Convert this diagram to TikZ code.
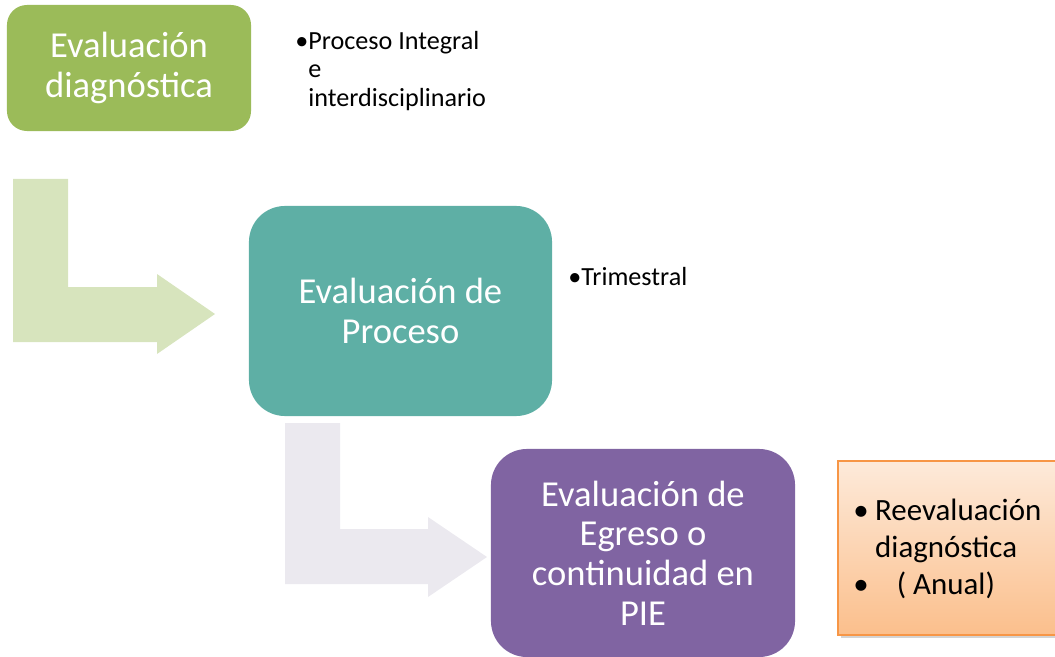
\documentclass[tikz,border=0pt]{standalone}
\usepackage{fontspec}
\setmainfont{Carlito}
\usetikzlibrary{shadows}

\definecolor{diaggreen}{HTML}{9BBB59}
\definecolor{procteal}{HTML}{5EAFA5}
\definecolor{egrpurple}{HTML}{8064A2}
\definecolor{arrowgreen}{HTML}{D7E4BD}
\definecolor{arrowlila}{HTML}{EBE9EF}
\definecolor{notaborde}{HTML}{F79646}
\definecolor{notaclaro}{HTML}{FDEADA}
\definecolor{notaoscuro}{HTML}{FBBF8C}

\tikzset{
  etapa/.style={inner sep=0pt, text=white, align=center,
                font=\fontsize{26}{28.2}\selectfont},
  nota/.style={anchor=west, inner sep=0pt, align=left,
               font=\fontsize{18.6}{20.3}\selectfont}
}

\begin{document}
\begin{tikzpicture}[x=0.025cm, y=-0.025cm]
        \useasboundingbox (0,0) rectangle (1055,657);
        \clip (0,0) rectangle (1055,657);

        % flechas
        \fill [arrowgreen] (13,179) -- (68,179) -- (68,287) -- (157,287) -- (157,274)
              -- (215,314) -- (157,354) -- (157,342) -- (13,342) -- cycle;
        \fill [arrowlila] (285,423) -- (340,423) -- (340,529) -- (428,529) -- (428,517)
              -- (487,557) -- (428,597) -- (428,584) -- (285,584) -- cycle;

        % etapas
        \node [etapa, fill=diaggreen, rounded corners=0.5cm,
               minimum width=6.1cm, minimum height=3.15cm] (diag) at (129,68)
              {Evaluación\\diagnóstica};
        \node [etapa, fill=procteal, rounded corners=0.9cm,
               minimum width=7.575cm, minimum height=5.25cm] (proc) at (400.5,311)
              {Evaluación de\\Proceso};
        \node [etapa, fill=egrpurple, rounded corners=0.9cm,
               minimum width=7.6cm, minimum height=5.2cm] (egr) at (643,553)
              {Evaluación de\\Egreso o\\continuidad en\\PIE};

        % notas
        \node [nota] (notadiag) at (295,71)
              {•Proceso Integral\\\phantom{•}e\\\phantom{•}interdisciplinario};
        \node [nota] (notaproc) at (568,277) {•Trimestral};

        \node [draw=notaborde, line width=1pt, top color=notaclaro, bottom color=notaoscuro,
               drop shadow={shadow xshift=2pt, shadow yshift=-2pt, opacity=0.35},
               inner sep=0pt, minimum width=5.6cm, minimum height=4.35cm] (notaegr) at (950,548) {};
        \node [nota, font=\fontsize{22}{26.3}\selectfont] (notaegrtxt) at (853,549)
              {\makebox[15.6pt][l]{•}Reevaluación\\\hspace*{15.6pt}diagnóstica\\\makebox[31pt][l]{•}( Anual)};
      \end{tikzpicture}
\end{document}
